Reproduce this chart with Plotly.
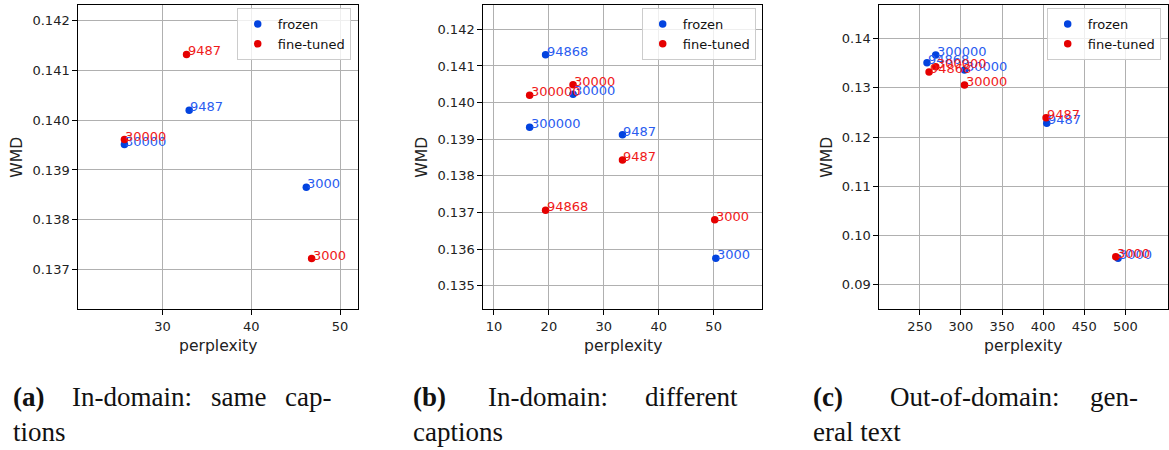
import plotly.graph_objects as go

# ---------------- data ----------------
a_labels = ["30000", "9487", "3000"]
a_frozen_ppl = [25.7, 33.0, 46.2]
a_frozen_wmd = [0.13951, 0.14020, 0.13865]
a_fine_ppl = [25.7, 32.7, 46.8]
a_fine_wmd = [0.13961, 0.14132, 0.13722]

b_labels = ["94868", "30000", "300000", "9487", "3000"]
b_frozen_ppl = [19.4, 24.4, 16.5, 33.4, 50.4]
b_frozen_wmd = [0.14131, 0.14023, 0.13933, 0.13912, 0.13575]
b_fine_ppl = [19.4, 24.4, 16.5, 33.4, 50.2]
b_fine_wmd = [0.13706, 0.14049, 0.14020, 0.13843, 0.13680]

c_labels = ["94868", "300000", "30000", "9487", "3000"]
c_frozen_ppl = [258.8, 269.4, 304.4, 404.4, 491.1]
c_frozen_wmd = [0.13512, 0.13668, 0.13363, 0.12279, 0.09535]
c_fine_ppl = [261.3, 269.4, 304.4, 403.6, 488.3]
c_fine_wmd = [0.13323, 0.13431, 0.13058, 0.12394, 0.09569]

series_names = ["frozen", "fine-tuned"]
x_title = "perplexity"
y_title = "WMD"
cap_tags = ["(a)", "(b)", "(c)"]
cap_first = ["In-domain:", "In-domain:", "Out-of-domain:"]
cap_middle = ["same", "", ""]
cap_last = ["cap-", "different", "gen-"]
cap_line2 = ["tions", "captions", "eral text"]

# ---------------- styling ----------------
W, H = 1169, 450
BLUE = "#0343df"
RED = "#e50000"
TXT_BLUE = "#2a5cf0"
TXT_RED = "#f01a1a"
SANS = "DejaVu Sans"
SERIF = "Liberation Serif"

panels = [
    dict(labels=a_labels, fx=a_frozen_ppl, fy=a_frozen_wmd, tx=a_fine_ppl, ty=a_fine_wmd,
         px=(78.3, 358.3), xr=[20.5, 52.06], yr=[0.13620, 0.14232],
         xt=[30, 40, 50], yt=[0.137, 0.138, 0.139, 0.140, 0.141, 0.142], yfmt=".3f",
         leg_right=350.7, ytitle_x=16.7),
    dict(labels=b_labels, fx=b_frozen_ppl, fy=b_frozen_wmd, tx=b_fine_ppl, ty=b_fine_wmd,
         px=(483.3, 762.3), xr=[8.06, 58.86], yr=[0.134354, 0.142674],
         xt=[10, 20, 30, 40, 50], yt=[0.135, 0.136, 0.137, 0.138, 0.139, 0.140, 0.141, 0.142],
         yfmt=".3f", leg_right=755.7, ytitle_x=421.7),
    dict(labels=c_labels, fx=c_frozen_ppl, fy=c_frozen_wmd, tx=c_fine_ppl, ty=c_fine_wmd,
         px=(879.3, 1167.5), xr=[200.8, 551.2], yr=[0.08499, 0.14691],
         xt=[250, 300, 350, 400, 450, 500], yt=[0.09, 0.10, 0.11, 0.12, 0.13, 0.14],
         yfmt=".2f", leg_right=1160.7, ytitle_x=826.7),
]
PLOT_TOP, PLOT_BOT = 4.7, 309.3

fig = go.Figure()
annotations = []
layout = dict(
    width=W, height=H, margin=dict(l=0, r=0, t=0, b=0),
    paper_bgcolor="white", plot_bgcolor="white", showlegend=True,
    font=dict(family=SANS, size=13, color="#222222"),
)

for i, p in enumerate(panels):
    n = "" if i == 0 else str(i + 1)
    xa, ya = "x" + n, "y" + n
    leg = "legend" + n
    fig.add_trace(go.Scatter(x=p["fx"], y=p["fy"], mode="markers", name=series_names[0],
                             marker=dict(color=BLUE, size=7.5), xaxis=xa, yaxis=ya, legend=leg))
    fig.add_trace(go.Scatter(x=p["tx"], y=p["ty"], mode="markers", name=series_names[1],
                             marker=dict(color=RED, size=7.5), xaxis=xa, yaxis=ya, legend=leg))
    axis_common = dict(showline=True, mirror=True, linecolor="black", linewidth=1,
                       showgrid=True, gridcolor="#b0b0b0", gridwidth=1, zeroline=False,
                       ticks="outside", ticklen=5, tickwidth=1, tickcolor="black",
                       tickfont=dict(family=SANS, size=13, color="#222222"))
    layout["xaxis" + n] = dict(domain=[p["px"][0] / W, p["px"][1] / W], range=p["xr"],
                               tickvals=p["xt"], anchor=ya, **axis_common)
    layout["yaxis" + n] = dict(domain=[1 - PLOT_BOT / H, 1 - PLOT_TOP / H], range=p["yr"],
                               tickvals=p["yt"], tickformat=p["yfmt"], anchor=xa, **axis_common)
    layout[leg] = dict(x=p["leg_right"] / W, xanchor="right", y=1 - 8 / H, yanchor="top",
                       bgcolor="rgba(255,255,255,0.8)", bordercolor="#cccccc", borderwidth=1,
                       font=dict(family=SANS, size=13, color="#111111"))
    # point labels
    for xs, ys, col in ((p["fx"], p["fy"], TXT_BLUE), (p["tx"], p["ty"], TXT_RED)):
        for xv, yv, lab in zip(xs, ys, p["labels"]):
            annotations.append(dict(x=xv, y=yv, xref=xa, yref=ya, text=lab, showarrow=False,
                                    xanchor="left", yanchor="bottom", xshift=-1, yshift=-6,
                                    font=dict(family=SANS, size=13, color=col)))
    # axis titles
    cx = (p["px"][0] + p["px"][1]) / 2
    annotations.append(dict(x=cx / W, y=1 - 345.5 / H, xref="paper", yref="paper",
                            text=x_title, showarrow=False, xanchor="center", yanchor="middle",
                            font=dict(family=SANS, size=15.6, color="#222222")))
    annotations.append(dict(x=p["ytitle_x"] / W, y=1 - 157 / H, xref="paper", yref="paper",
                            text=y_title, showarrow=False, xanchor="center", yanchor="middle",
                            textangle=-90, font=dict(family=SANS, size=15.6, color="#222222")))

# ---------------- captions (justified first line) ----------------
CAP_SIZE = 27
BASE1, BASE2 = 406.7, 442.0
desc = 0.22 * CAP_SIZE + 1
# approximate Times-metric widths (em) to centre the middle word of a justified line
EM = {"(": .333, ")": .333, "a": .444, "c": .444, "d": .5, "e": .444, "i": .278, "m": .778,
      "n": .5, "o": .5, "p": .5, "s": .389, "I": .333, "-": .333, ":": .278}


def wpx(s):
    return sum(EM.get(ch, .5) for ch in s) * CAP_SIZE


tag_x = [12.3, 412.3, 812.3]
first_x = [70.7, 487.3, 889.3]
line_end = [333.0, 740.0, 1140.0]


def cap_ann(text, xpx, ypx, anchor="left"):
    return dict(x=xpx / W, y=1 - ypx / H, xref="paper", yref="paper", text=text,
                showarrow=False, xanchor=anchor, yanchor="bottom",
                xshift=-1 if anchor == "left" else 0, yshift=-desc,
                font=dict(family=SERIF, size=CAP_SIZE, color="#111111"))


for k in range(3):
    annotations.append(cap_ann("<b>%s</b>" % cap_tags[k], tag_x[k], BASE1))
    annotations.append(cap_ann(cap_first[k], first_x[k], BASE1))
    annotations.append(cap_ann(cap_last[k], line_end[k], BASE1, anchor="right"))
    if cap_middle[k]:
        left = first_x[k] + wpx(cap_first[k])
        right = line_end[k] - wpx(cap_last[k])
        annotations.append(cap_ann(cap_middle[k], (left + right) / 2, BASE1, anchor="center"))
    annotations.append(cap_ann(cap_line2[k], tag_x[k], BASE2))

layout["annotations"] = annotations
fig.update_layout(**layout)
fig.write_html(
    "out.html",
    config={"displayModeBar": False},
    post_script="document.body.style.margin='0';document.body.style.overflow='hidden';",
)
